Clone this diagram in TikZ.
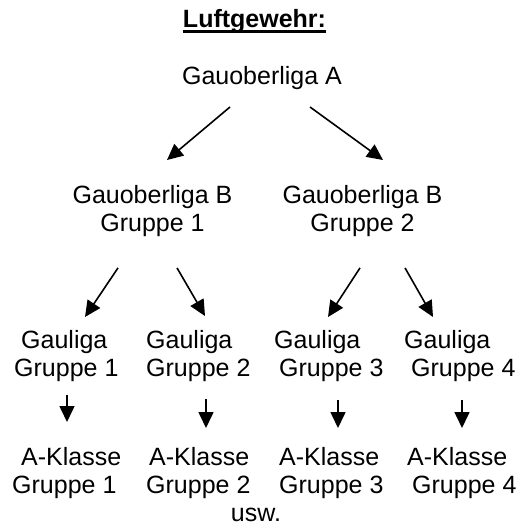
\documentclass[tikz,border=0pt]{standalone}
\usepackage{fontspec}
\setmainfont{Liberation Sans}
\usetikzlibrary{
  arrows.meta,
  positioning
}

\begin{document}
\begin{tikzpicture}[
  x=1pt, y=1pt,
  txt/.style={
    font=\fontsize{25}{28.5}\selectfont,
    inner sep=0pt
  },
  liga/.style={
    txt, align=left,
    anchor=north west
  },
  arr/.style={
    -{Triangle[length=16pt,width=15pt]},
    line width=1.6pt
  }
]
  \useasboundingbox (0,0) rectangle (518,-526);

  % Title
  \node[txt, anchor=base] (title)
    at (254.5,-28) {\textbf{Luftgewehr:}};
  \draw[line width=2.6pt]
    ([yshift=-3.5pt]title.base west) --
    ([yshift=-3.5pt]title.base east);

  % Top level
  \node[txt, anchor=base] (goA)
    at (262,-85) {Gauoberliga A};

  % Gauoberliga B
  \node[txt, align=center, anchor=north] (goB1)
    at (152.5,-185) {Gauoberliga B\\Gruppe 1};
  \node[txt, align=center, anchor=north] (goB2)
    at (362.5,-185) {Gauoberliga B\\Gruppe 2};

  % Gauliga
  \node[liga] (gl1) at (14,-330)
    {\hspace*{7pt}Gauliga\\Gruppe 1};
  \node[liga] (gl2) at (146,-330)
    {Gauliga\\Gruppe 2};
  \node[liga] (gl3) at (274,-330)
    {Gauliga\\\hspace*{5pt}Gruppe 3};
  \node[liga] (gl4) at (404,-330)
    {Gauliga\\\hspace*{7pt}Gruppe 4};

  % A-Klasse
  \node[liga] (ak1) at (12,-447)
    {\hspace*{9pt}A-Klasse\\Gruppe 1};
  \node[liga] (ak2) at (146,-447)
    {\hspace*{3pt}A-Klasse\\Gruppe 2};
  \node[liga] (ak3) at (279,-447)
    {A-Klasse\\Gruppe 3};
  \node[liga] (ak4) at (407,-447)
    {A-Klasse\\\hspace*{5pt}Gruppe 4};

  \node[txt, anchor=base] (usw)
    at (256,-521) {usw.};

  % Arrows
  \draw[arr] ([shift={(-32,-22)}]goA.base) --
    ([shift={(14.5,25)}]goB1.north);
  \draw[arr] ([shift={(48,-22)}]goA.base) --
    ([shift={(20.5,25)}]goB2.north);

  \draw[arr] ([shift={(-34.5,-30.7)}]goB1.south) --
    ([shift={(71,13)}]gl1.north west);
  \draw[arr] ([shift={(24.5,-30.7)}]goB1.south) --
    ([shift={(59,14)}]gl2.north west);
  \draw[arr] ([shift={(-2.5,-30.7)}]goB2.south) --
    ([shift={(54,13)}]gl3.north west);
  \draw[arr] ([shift={(42.5,-30.7)}]goB2.south) --
    ([shift={(29,13)}]gl4.north west);

  \draw[arr] ([shift={(53,-12.7)}]gl1.south west) --
    ([shift={(55,25)}]ak1.north west);
  \draw[arr] ([shift={(60,-16.7)}]gl2.south west) --
    ([shift={(60,19)}]ak2.north west);
  \draw[arr] ([shift={(64,-17.7)}]gl3.south west) --
    ([shift={(59,19)}]ak3.north west);
  \draw[arr] ([shift={(58,-17.7)}]gl4.south west) --
    ([shift={(55,19)}]ak4.north west);
\end{tikzpicture}
\end{document}
